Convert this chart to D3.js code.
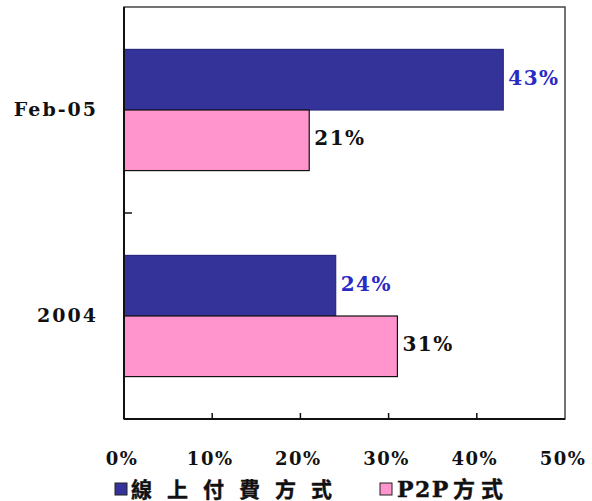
<!DOCTYPE html>
<html>
<head>
<meta charset="utf-8">
<script src="https://cdn.jsdelivr.net/npm/d3@7"></script>
<style>
  html, body { margin: 0; padding: 0; background: #fff; }
  svg { display: block; }
</style>
</head>
<body>
<div id="chart"></div>
<script>
// Categories (top to bottom) and series values (fractions)
const categories = ["Feb-05", "2004"];
const seriesNames = ["線上付費方式", "P2P方式"];
const onlinePay = [0.43, 0.24];
const p2p = [0.21, 0.31];
const tickValues = [0, 0.1, 0.2, 0.3, 0.4, 0.5];
const tickLabels = ["0%", "10%", "20%", "30%", "40%", "50%"];

const seriesValues = [onlinePay, p2p];
const barColors = ["#33339a", "#ff95cc"];
const barStrokes = ["#2a2a80", "#111"];
const labelColors = ["#2a2ac4", "#111"];

const W = 592, H = 501;
const plot = { left: 124, right: 565, top: 7, bottom: 419 };

const svg = d3.select("#chart").append("svg")
  .attr("width", W).attr("height", H);

const x = d3.scaleLinear().domain([0, 0.5]).range([plot.left, plot.right]);
const y = d3.scaleBand().domain(categories).range([plot.top, plot.bottom]);

// bars in a group with gap width 140% of a bar
const gapRatio = 1.4;
const barH = y.bandwidth() / (seriesNames.length + gapRatio);
const inner = d3.scaleBand().domain(seriesNames)
  .range([barH * gapRatio / 2, barH * gapRatio / 2 + barH * seriesNames.length]);

const serifFont = "'DejaVu Serif', 'Liberation Serif', serif";
const cjkFont = "'DejaVu Serif', 'Noto Sans CJK TC', sans-serif";

// plot frame
svg.append("rect")
  .attr("x", plot.left).attr("y", plot.top)
  .attr("width", plot.right - plot.left).attr("height", plot.bottom - plot.top)
  .attr("fill", "#fff").attr("stroke", "#444").attr("stroke-width", 1.5);

// bars
const rows = categories.map((c, i) => ({ cat: c, vals: seriesValues.map(s => s[i]) }));
const groups = svg.selectAll("g.cat").data(rows).join("g")
  .attr("class", "cat")
  .attr("transform", d => `translate(0,${y(d.cat)})`);

groups.selectAll("rect").data(d => d.vals.map((v, k) => ({ v, k })))
  .join("rect")
  .attr("x", x(0))
  .attr("y", d => inner(seriesNames[d.k]))
  .attr("width", d => x(d.v) - x(0))
  .attr("height", inner.bandwidth())
  .attr("fill", d => barColors[d.k])
  .attr("stroke", d => barStrokes[d.k])
  .attr("stroke-width", 1.2);

// value labels
groups.selectAll("text.val").data(d => d.vals.map((v, k) => ({ v, k })))
  .join("text")
  .attr("class", "val")
  .attr("x", d => x(d.v) + 5)
  .attr("y", d => inner(seriesNames[d.k]) + inner.bandwidth() / 2 - 2)
  .attr("dominant-baseline", "central")
  .attr("font-family", serifFont)
  .attr("font-weight", "bold")
  .attr("font-size", 20)
  .attr("letter-spacing", 1.5)
  .attr("fill", d => labelColors[d.k])
  .text(d => d3.format(".0%")(d.v));

// left axis with inward tick between categories
const axisG = svg.append("g");
axisG.append("line")
  .attr("x1", plot.left).attr("x2", plot.left)
  .attr("y1", plot.top).attr("y2", plot.bottom)
  .attr("stroke", "#111").attr("stroke-width", 2);
categories.slice(1).forEach(c => {
  axisG.append("line")
    .attr("x1", plot.left).attr("x2", plot.left + 8)
    .attr("y1", y(c)).attr("y2", y(c))
    .attr("stroke", "#111").attr("stroke-width", 1.5);
});

// category labels
svg.selectAll("text.cat").data(categories).join("text")
  .attr("class", "cat")
  .attr("x", 98)
  .attr("y", d => y(d) + y.bandwidth() / 2 - 1)
  .attr("text-anchor", "end")
  .attr("dominant-baseline", "central")
  .attr("font-family", serifFont)
  .attr("font-weight", "bold")
  .attr("font-size", 19)
  .attr("letter-spacing", 2)
  .attr("fill", "#111")
  .text(d => d);

// bottom axis with inward ticks
axisG.append("line")
  .attr("x1", plot.left).attr("x2", plot.right)
  .attr("y1", plot.bottom).attr("y2", plot.bottom)
  .attr("stroke", "#111").attr("stroke-width", 2);
tickValues.slice(1, -1).forEach(t => {
  axisG.append("line")
    .attr("x1", x(t)).attr("x2", x(t))
    .attr("y1", plot.bottom).attr("y2", plot.bottom - 6)
    .attr("stroke", "#111").attr("stroke-width", 1.5);
});

svg.selectAll("text.tick").data(tickValues).join("text")
  .attr("class", "tick")
  .attr("x", d => x(d) - 2)
  .attr("y", 465)
  .attr("text-anchor", "middle")
  .attr("font-family", serifFont)
  .attr("font-weight", "bold")
  .attr("font-size", 18)
  .attr("letter-spacing", 1.5)
  .attr("fill", "#111")
  .text((d, i) => tickLabels[i]);

// legend
const lg = svg.append("g");
const legendSwatchX = [115, 380];
legendSwatchX.forEach((sx, k) => {
  lg.append("rect")
    .attr("x", sx).attr("y", 483)
    .attr("width", 12).attr("height", 12)
    .attr("fill", barColors[k]).attr("stroke", "#222").attr("stroke-width", 1);
});

lg.append("text")
  .attr("x", 131).attr("y", 497)
  .attr("font-family", cjkFont)
  .attr("font-weight", "bold")
  .attr("font-size", 21)
  .attr("letter-spacing", 15)
  .attr("fill", "#111")
  .attr("stroke", "#111").attr("stroke-width", 0.4)
  .text(seriesNames[0]);

// "P2P" in serif, "方式" in CJK with wider spacing
const t2 = lg.append("text")
  .attr("x", 397).attr("y", 497)
  .attr("font-family", cjkFont)
  .attr("font-weight", "bold")
  .attr("fill", "#111")
  .attr("stroke", "#111").attr("stroke-width", 0.4);
t2.append("tspan").attr("font-size", 22).attr("letter-spacing", 1.5)
  .text(seriesNames[1].slice(0, 3));
t2.append("tspan").attr("font-size", 22).attr("letter-spacing", 6).attr("dx", 3)
  .text(seriesNames[1].slice(3));
</script>
</body>
</html>
